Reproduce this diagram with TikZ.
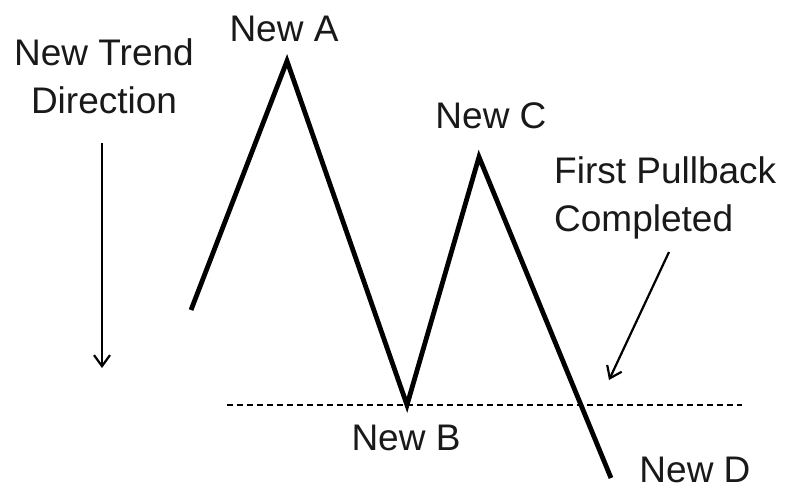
\documentclass[tikz,border=0pt]{standalone}
\usepackage{fontspec}
\setmainfont{Liberation Sans}
\usetikzlibrary{arrows.meta}
\begin{document}
\begin{tikzpicture}[x=1pt,y=-1pt,
  lbl/.style={inner sep=0pt,font=\fontsize{37}{48}\selectfont,text=black!90},
  zig/.style={line width=4.8pt,line join=miter,black},
  pointer/.style={line width=2.2pt,-{Straight Barb[length=11pt,width=16pt,line width=2.2pt]}},
  level/.style={line width=1.2pt,dash pattern=on 6pt off 4pt}]
\useasboundingbox (0,0) rectangle (788,491);
\fill[white] (0,0) rectangle (788,491);
\coordinate (s) at (191,310);
\coordinate (a) at (287,61);
\coordinate (b) at (407,405);
\coordinate (c) at (479,157);
\coordinate (d) at (611,478);
\coordinate (l1) at (227,405);
\coordinate (l2) at (742,405);
\coordinate (t1) at (102,143);
\coordinate (t2) at (102,368);
\coordinate (p1) at (669,252);
\coordinate (p2) at (609,380);
\draw[level] (l1) -- (l2);
\draw[zig] (s) -- (a) -- (b) -- (c) -- (d);
\draw[pointer] (t1) -- (t2);
\draw[pointer] (p1) -- (p2);
\node[lbl] (na) at (284,29) {New A};
\node[lbl,align=center] (nt) at (104,76) {New Trend\\Direction};
\node[lbl] (nc) at (491,116) {New C};
\node[lbl,align=left,anchor=west] (fp) at (554,198) {First Pullback\\Completed};
\node[lbl] (nb) at (406,438) {New B};
\node[lbl] (nd) at (695,470) {New D};
\end{tikzpicture}
\end{document}
